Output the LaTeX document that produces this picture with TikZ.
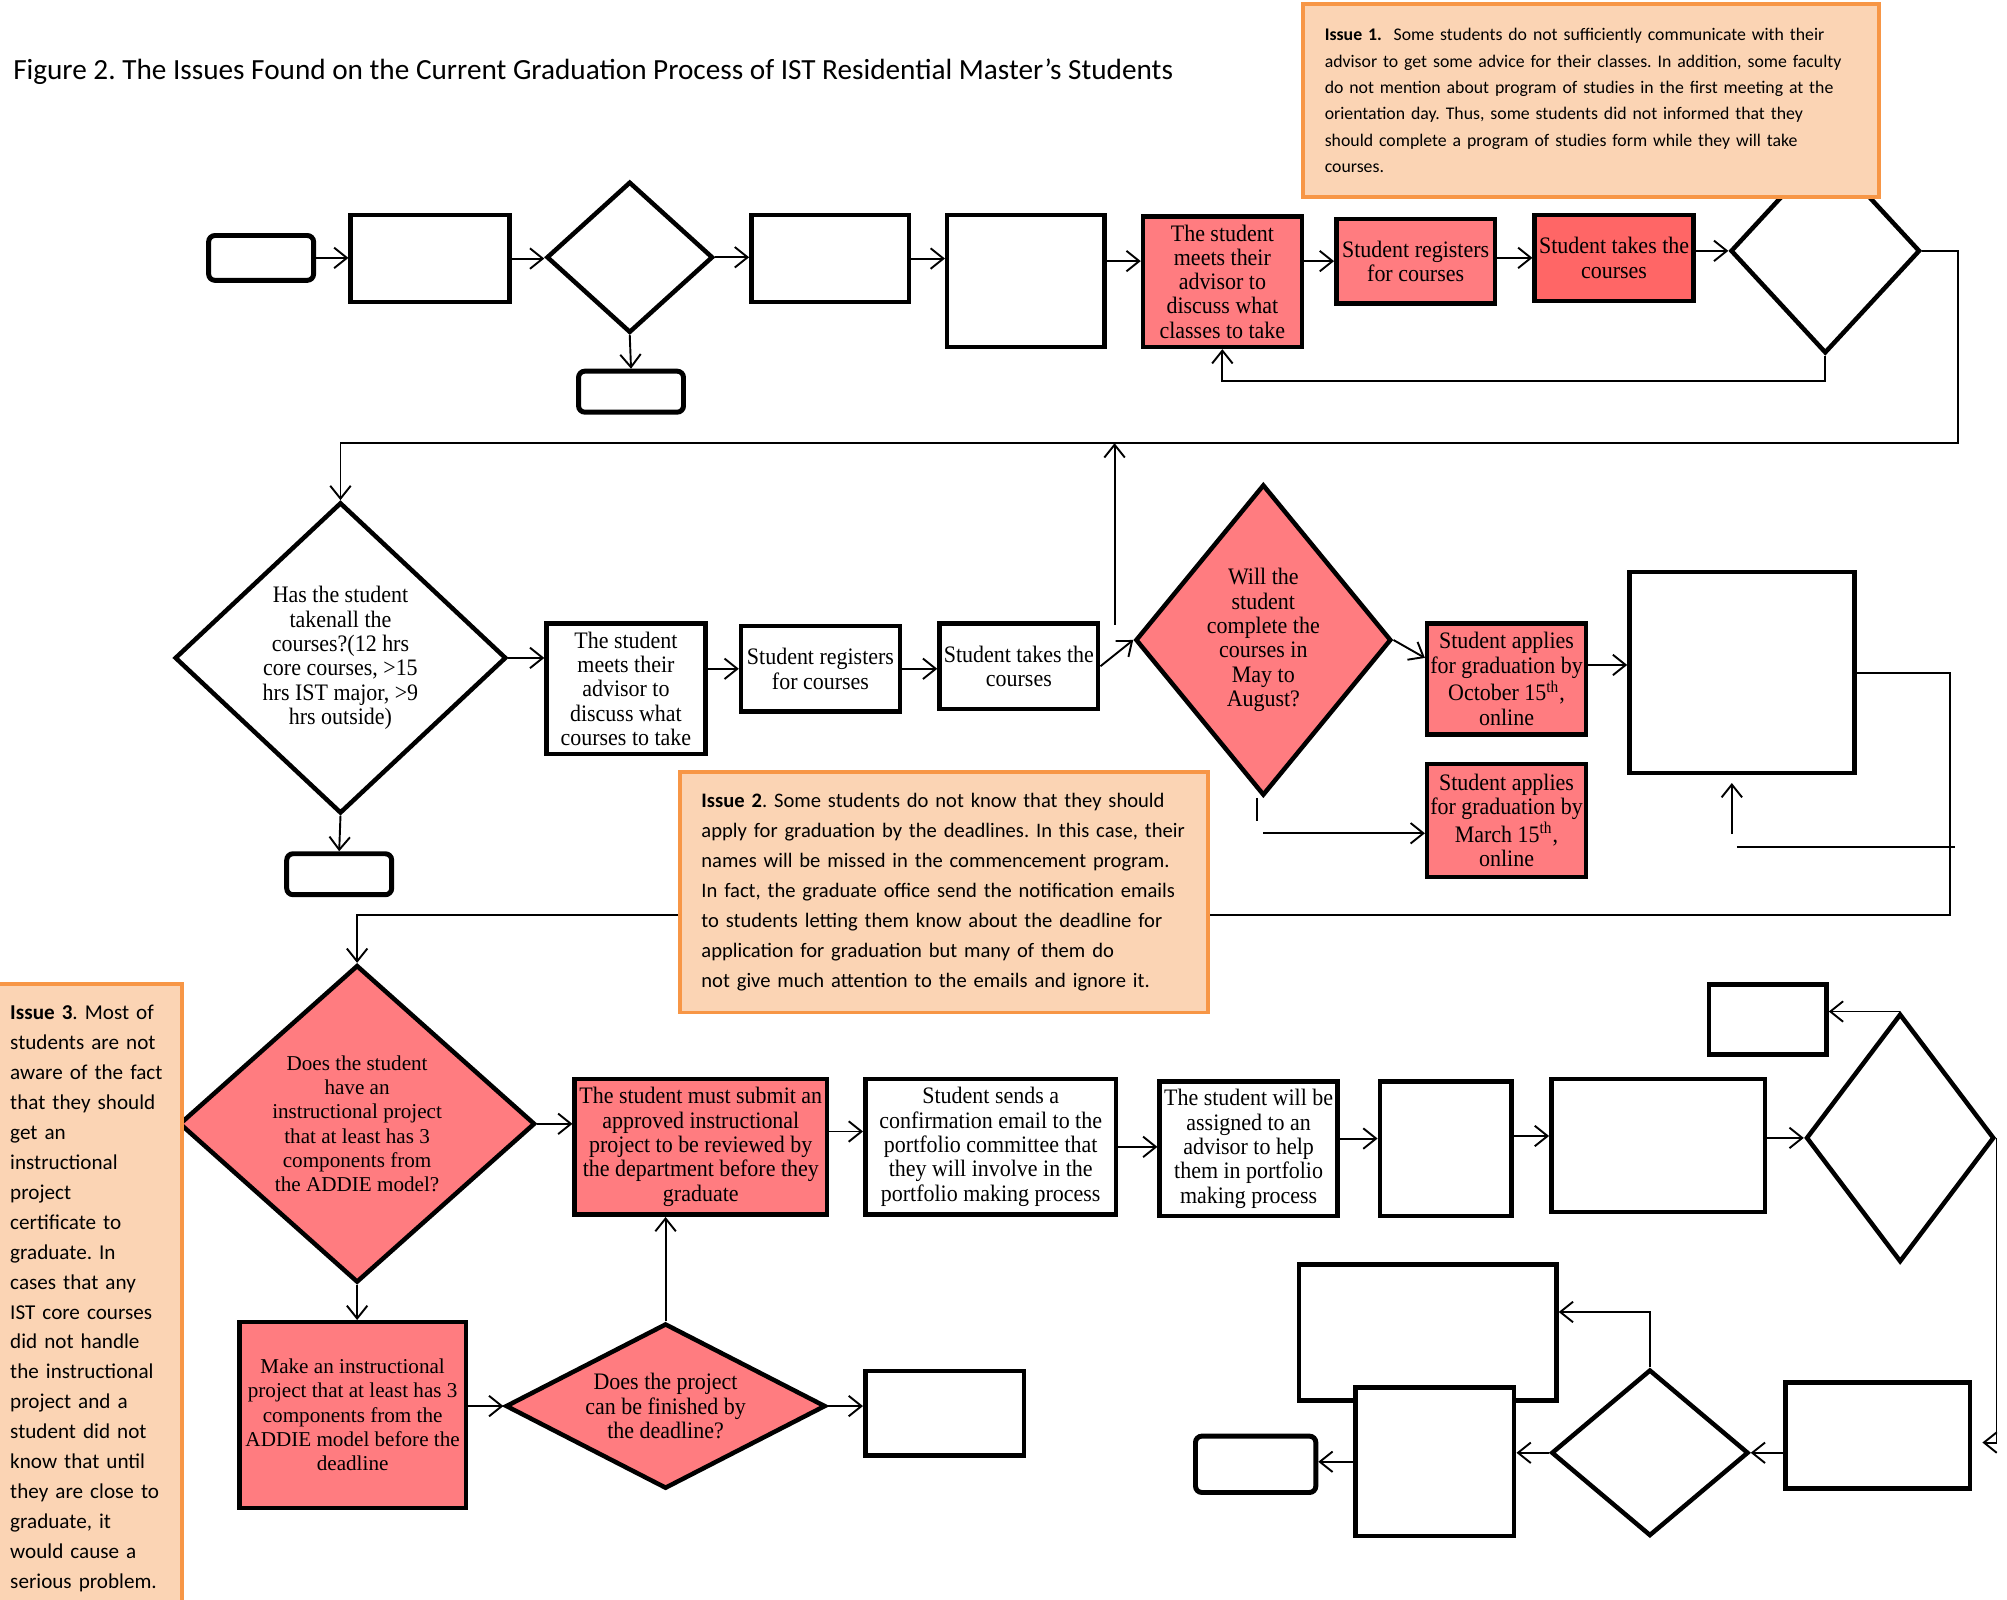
\documentclass[tikz,border=0pt]{standalone}
\usepackage{fontspec}
\setmainfont{Carlito}
\newfontfamily\bxfont[FakeStretch=0.93]{Liberation Serif}
\newfontfamily\dxfont{Liberation Serif}
\usetikzlibrary{shapes.geometric,arrows.meta}
\frenchspacing

\definecolor{redF}{RGB}{255,124,128}
\definecolor{redD}{RGB}{255,102,102}
\definecolor{issueF}{RGB}{251,212,180}
\definecolor{issueB}{RGB}{247,150,70}

\tikzstyle{pS}=[rectangle,draw,line width=2pt,fill=white,inner sep=0pt,align=center,font=\bxfont\fontsize{10.5}{10.8}\selectfont]
\tikzstyle{pR}=[pS,fill=redF]
\tikzstyle{dS}=[diamond,draw,line width=2pt,fill=white,inner sep=0pt,align=center,font=\bxfont\fontsize{10.5}{10.8}\selectfont]
\tikzstyle{dR}=[dS,fill=redF]
\tikzstyle{tS}=[rectangle,rounded corners=2.8pt,draw,line width=2.2pt,fill=white,inner sep=0pt]
\tikzstyle{iS}=[rectangle,draw=issueB,fill=issueF,line width=1.7pt,inner ysep=0pt,align=left]
\tikzstyle{aS}=[line width=0.85pt,-{Straight Barb[length=2mm,width=3.2mm]}]
\tikzstyle{lS}=[line width=0.85pt]

\begin{document}
\begin{tikzpicture}[y=-1cm]
    \useasboundingbox (0,0) rectangle (31.36,25);
    \draw (0.2,1.12) node[anchor=west,inner sep=0pt,font=\fontsize{13}{15}\selectfont] (title) {Figure 2. The Issues Found on the Current Graduation Process of IST Residential Master’s Students};

    % first row
    \draw (4.08,4.03) node[tS,minimum width=1.64cm,minimum height=0.70cm] (t1) {};
    \draw (6.72,4.04) node[pS,minimum width=2.48cm,minimum height=1.36cm] (b1) {};
    \draw (9.84,4.02) node[dS,minimum width=2.60cm,minimum height=2.36cm] (d1) {};
    \draw (9.86,6.12) node[tS,minimum width=1.64cm,minimum height=0.64cm] (t2) {};
    \draw (12.97,4.04) node[pS,minimum width=2.46cm,minimum height=1.36cm] (b2) {};
    \draw (16.03,4.39) node[pS,minimum width=2.46cm,minimum height=2.06cm] (b3) {};
    \draw (19.10,4.40) node[pR,minimum width=2.48cm,minimum height=2.04cm] (r1) {The student\\meets their\\advisor to\\discuss what\\classes to take};
    \draw (22.12,4.08) node[pR,minimum width=2.48cm,minimum height=1.32cm] (r2) {Student registers\\for courses};
    \draw (25.22,4.03) node[pR,fill=redD,minimum width=2.48cm,minimum height=1.34cm] (r3) {Student takes the\\courses};
    \draw (28.52,3.92) node[dS,minimum width=2.96cm,minimum height=3.20cm] (d2) {};

    % second row
    \draw (5.32,10.28) node[dS,minimum width=5.18cm,minimum height=4.86cm] (d3) {Has the student\\takenall the\\courses?(12 hrs\\core courses, >15\\hrs IST major, >9\\hrs outside)};
    \draw (5.30,13.66) node[tS,minimum width=1.64cm,minimum height=0.64cm] (t3) {};
    \draw (9.78,10.76) node[pS,minimum width=2.48cm,minimum height=2.04cm] (b4) {The student\\meets their\\advisor to\\discuss what\\courses to take};
    \draw (12.82,10.45) node[pS,minimum width=2.48cm,minimum height=1.34cm] (b5) {Student registers\\for courses};
    \draw (15.92,10.41) node[pS,minimum width=2.48cm,minimum height=1.34cm] (b6) {Student takes the\\courses};
    \draw (19.74,10.00) node[dR,minimum width=3.96cm,minimum height=4.86cm] (d4) {Will the\\student\\complete the\\courses in\\May to\\August?};
    \draw (23.54,10.61) node[pR,minimum width=2.48cm,minimum height=1.74cm] (r4) {Student applies\\for graduation by\\October 15\textsuperscript{th},\\online};
    \draw (23.54,12.82) node[pR,minimum width=2.48cm,minimum height=1.76cm] (r5) {Student applies\\for graduation by\\March 15\textsuperscript{th},\\online};
    \draw (27.22,10.51) node[pS,minimum width=3.52cm,minimum height=3.14cm] (b7) {};

    % third row
    \draw (5.58,17.56) node[dR,font=\dxfont\fontsize{9.4}{10.8}\selectfont,minimum width=5.56cm,minimum height=4.96cm] (d5) {Does the student\\have an\\instructional project\\that at least has 3\\components from\\the ADDIE model?};
    \draw (10.95,17.92) node[pR,minimum width=3.94cm,minimum height=2.12cm] (r6) {The student must submit an\\approved instructional\\project to be reviewed by\\the department before they\\graduate};
    \draw (15.48,17.92) node[pS,minimum width=3.92cm,minimum height=2.12cm] (b8) {Student sends a\\confirmation email to the\\portfolio committee that\\they will involve in the\\portfolio making process};
    \draw (19.51,17.95) node[pS,minimum width=2.78cm,minimum height=2.10cm] (b9) {The student will be\\assigned to an\\advisor to help\\them in portfolio\\making process};
    \draw (22.59,17.95) node[pS,minimum width=2.06cm,minimum height=2.10cm] (b10) {};
    \draw (25.91,17.90) node[pS,minimum width=3.34cm,minimum height=2.08cm] (b11) {};
    \draw (29.69,17.78) node[dS,minimum width=2.94cm,minimum height=3.88cm] (d6) {};
    \draw (27.62,15.93) node[pS,minimum width=1.84cm,minimum height=1.10cm] (b12) {};
    \draw (5.51,22.11) node[pR,font=\dxfont\fontsize{9.4}{10.8}\selectfont,minimum width=3.54cm,minimum height=2.90cm] (r7) {Make an instructional\\project that at least has 3\\components from the\\ADDIE model before the\\deadline};
    \draw (10.40,21.97) node[dR,shape aspect=1.94,minimum width=5.00cm,minimum height=2.58cm] (d7) {Does the project\\can be finished by\\the deadline?};
    \draw (14.76,22.08) node[pS,minimum width=2.48cm,minimum height=1.32cm] (b13) {};
    \draw (29.34,22.43) node[pS,minimum width=2.88cm,minimum height=1.66cm] (b14) {};
    \draw (25.78,22.70) node[dS,minimum width=3.08cm,minimum height=2.60cm] (d8) {};
    \draw (22.31,20.82) node[pS,minimum width=4.02cm,minimum height=2.12cm] (b15) {};
    \draw (22.42,22.84) node[pS,minimum width=2.48cm,minimum height=2.32cm] (b16) {};
    \draw (19.62,22.88) node[tS,minimum width=1.88cm,minimum height=0.88cm] (t4) {};

    \coordinate (upA) at ([shift={(0.22,0.06)}]b6.north east);
    \coordinate (r4o) at ([yshift=0.22cm]r4.east);
    \coordinate (r5o) at ([yshift=-0.2cm]r5.west);
    \coordinate (upB) at ([shift={(-0.16,0.92)}]b7.south);
    \coordinate (lnB) at ([shift={(-0.08,1.12)}]b7.south);
    \coordinate (r6o) at ([yshift=0.24cm]r6.east);
    \coordinate (b9o) at ([yshift=0.16cm]b9.east);
    \coordinate (b10o) at ([yshift=0.2cm]b10.east);
    \coordinate (b15o) at ([yshift=0.32cm]b15.east);

    \draw[aS] (t1.east) -- (t1.east -| b1.west);
    \draw[aS] (b1.east) -- (b1.east -| d1.west);
    \draw[aS] (d1.south) -- (t2.north);
    \draw[aS] (d1.east) -- (d1.east -| b2.west);
    \draw[aS] (b2.east) -- (b2.east -| b3.west);
    \draw[aS] (b3.east |- r2) -- (r1.west |- r2);
    \draw[aS] (r1.east |- r2) -- (r2.west);
    \draw[aS] (r2.east |- r3) -- (r3.west);
    \draw[aS] (r3.east |- d2) -- (d2.west);
    \draw[aS] (d2.south) -- ++(0,0.40) -| (r1.south);
    \draw[aS] (d2.east) -- ++(0.56,0) -- ++(0,3.00) -| (d3.north);

    \draw[aS] (d3.south) -- (t3.north);
    \draw[aS] (d3.east) -- (d3.east -| b4.west);
    \draw[aS] (b4.east |- b5) -- (b5.west);
    \draw[aS] (b5.east) -- (b5.east -| b6.west);
    \draw[aS] (b6.east) -- (d4.west);
    \draw[aS] (upA) -- ++(0,-2.84);
    \draw[aS] (d4.east) -- ([yshift=0.33cm]r4.west);
    \draw[lS] ([xshift=-0.1cm]d4.south) -- ++(0,0.36);
    \draw[aS] (r5o -| d4.south) -- (r5o);
    \draw[aS] (r4o) -- (r4o -| b7.west);
    \draw[aS] (upB) -- ++(0,-0.8);
    \draw[lS] (lnB) -- ++(3.4,0);
    \draw[aS] (b7.east) -- ++(1.46,0) -- ++(0,3.78) -| (d5.north);

    \draw[aS] (d5.east) -- (d5.east -| r6.west);
    \draw[aS] (d5.south) -- (d5.south |- r7.north);
    \draw[aS] (r6o) -- (r6o -| b8.west);
    \draw[aS] (b8.east) -- (b8.east -| b9.west);
    \draw[aS] (b9o) -- (b9o -| b10.west);
    \draw[aS] (b10o) -- (b10o -| b11.west);
    \draw[aS] (b11.east |- d6.west) -- (d6.west);
    \draw[aS] (d6.north) -- (d6.north -| b12.east);
    \draw[aS] (d6.east) -- ++(0,4.76) -- ++(-0.22,0);
    \draw[aS] (b14.west |- d8.east) -- (d8.east);
    \draw[aS] (d8.north) |- (b15o);
    \draw[aS] (d8.west) -- (d8.west -| b16.east);
    \draw[aS] (b16.west) -- (b16.west -| t4.east);
    \draw[aS] (r7.east |- d7.west) -- (d7.west);
    \draw[aS] (d7.north) -- (d7.north |- r6.south);
    \draw[aS] (d7.east) -- (d7.east -| b13.west);

    % issue notes
    \draw (24.86,1.57) node[iS,minimum width=9cm,minimum height=3.02cm,inner xsep=0.34cm,text width=8.32cm,font=\fontsize{7.9}{11.7}\selectfont] (iss1) {\textbf{Issue 1.}\ \ Some students do not sufficiently communicate with their\\advisor to get some advice for their classes. In addition, some faculty\\do not mention about program of studies in the first meeting at the\\orientation day. Thus, some students did not informed that they\\should complete a program of studies form while they will take\\courses.};
    \draw (14.75,13.94) node[iS,minimum width=8.26cm,minimum height=3.76cm,inner xsep=0.34cm,text width=7.58cm,font=\fontsize{9.15}{13.3}\selectfont] (iss2) {\textbf{Issue 2}. Some students do not know that they should\\apply for graduation by the deadlines. In this case, their\\names will be missed in the commencement program.\\In fact, the graduate office send the notification emails\\to students letting them know about the deadline for\\application for graduation but many of them do\\not give much attention to the emails and ignore it.};
    \draw (1.37,20.29) node[iS,minimum width=2.94cm,minimum height=9.82cm,inner xsep=0.26cm,text width=2.42cm,font=\fontsize{9.4}{13.3}\selectfont] (iss3) {\textbf{Issue 3}. Most of\\students are not\\aware of the fact\\that they should\\get an\\instructional\\project\\certificate to\\graduate. In\\cases that any\\IST core courses\\did not handle\\the instructional\\project and a\\student did not\\know that until\\they are close to\\graduate, it\\would cause a\\serious problem.};
\end{tikzpicture}
\end{document}
